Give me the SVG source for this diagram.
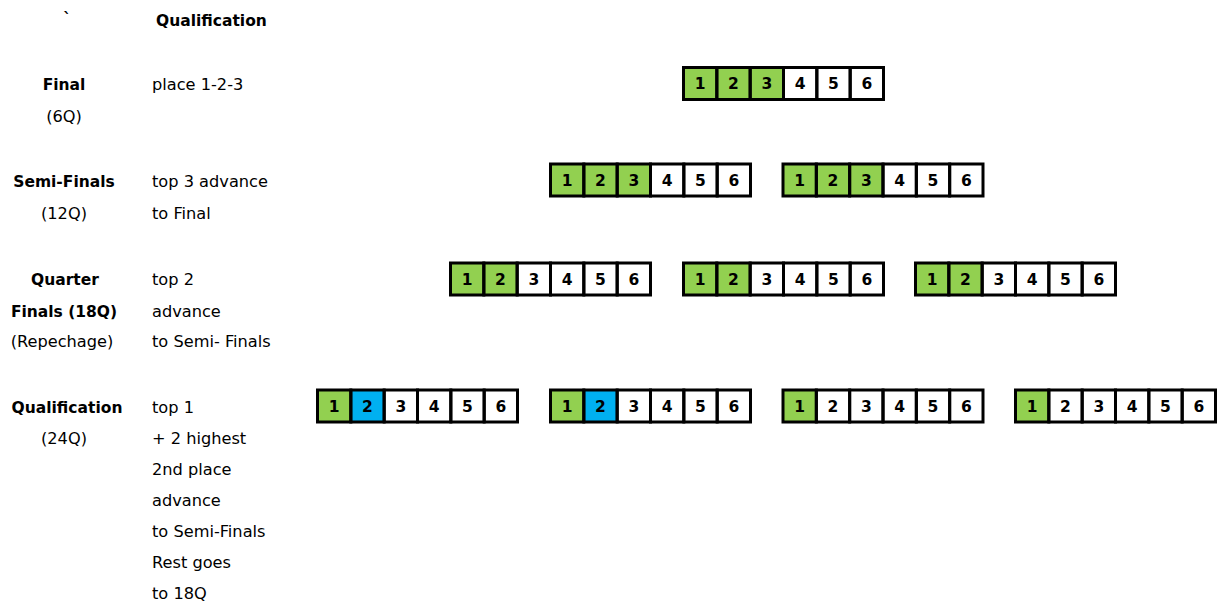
<svg xmlns="http://www.w3.org/2000/svg" xmlns:xlink="http://www.w3.org/1999/xlink" width="1221" height="605" viewBox="0 0 1221 605">
  <style>
    .lbl { font-family: "DejaVu Sans", "Liberation Sans", sans-serif; font-size: 16.2px; fill: #000; }
    .b { font-weight: bold; font-size: 15.5px; }
    .mid { text-anchor: middle; }
    .cell { fill: none; stroke: #000; stroke-width: 3; }
    .num { font-family: "DejaVu Sans", "Liberation Sans", sans-serif; font-size: 15.5px; font-weight: bold; text-anchor: middle; fill: #000; }
    .g { fill: #92D050; }
    .bl { fill: #00B0F0; }
  </style>
  <defs>
    <g id="strip">
      <rect class="cell" x="1.5" y="1.5" width="33.33" height="32"/>
      <rect class="cell" x="34.83" y="1.5" width="33.33" height="32"/>
      <rect class="cell" x="68.17" y="1.5" width="33.33" height="32"/>
      <rect class="cell" x="101.5" y="1.5" width="33.33" height="32"/>
      <rect class="cell" x="134.83" y="1.5" width="33.33" height="32"/>
      <rect class="cell" x="168.17" y="1.5" width="33.33" height="32"/>
      <text class="num" x="18.17" y="23">1</text>
      <text class="num" x="51.5" y="23">2</text>
      <text class="num" x="84.83" y="23">3</text>
      <text class="num" x="118.17" y="23">4</text>
      <text class="num" x="151.5" y="23">5</text>
      <text class="num" x="184.83" y="23">6</text>
    </g>
  </defs>
  <rect width="1221" height="605" fill="#fff"/>

  <g id="header">
    <text class="lbl b mid" x="67" y="24">`</text>
    <text class="lbl b" x="156" y="26">Qualification</text>
  </g>

  <g id="label-final">
    <text class="lbl b mid" x="64" y="90">Final</text>
    <text class="lbl mid" x="64" y="122">(6Q)</text>
    <text class="lbl" x="152" y="90">place 1-2-3</text>
  </g>
  <g id="label-semi">
    <text class="lbl b mid" x="64" y="187">Semi-Finals</text>
    <text class="lbl mid" x="64" y="219">(12Q)</text>
    <text class="lbl" x="152" y="187">top 3 advance</text>
    <text class="lbl" x="152" y="219">to Final</text>
  </g>
  <g id="label-quarter">
    <text class="lbl b mid" x="65" y="285">Quarter</text>
    <text class="lbl b mid" x="64" y="317">Finals (18Q)</text>
    <text class="lbl mid" x="62" y="347">(Repechage)</text>
    <text class="lbl" x="152" y="285">top 2</text>
    <text class="lbl" x="152" y="317">advance</text>
    <text class="lbl" x="152" y="347">to Semi- Finals</text>
  </g>
  <g id="label-qual">
    <text class="lbl b mid" x="67" y="413">Qualification</text>
    <text class="lbl mid" x="64" y="444">(24Q)</text>
    <text class="lbl" x="152" y="413">top 1</text>
    <text class="lbl" x="152" y="444">+ 2 highest</text>
    <text class="lbl" x="152" y="475">2nd place</text>
    <text class="lbl" x="152" y="506">advance</text>
    <text class="lbl" x="152" y="537">to Semi-Finals</text>
    <text class="lbl" x="152" y="568">Rest goes</text>
    <text class="lbl" x="152" y="599">to 18Q</text>
  </g>

  <g id="final-1" transform="translate(682,66)">
    <rect class="g" x="1.5" y="1.5" width="100" height="32"/>
    <use href="#strip" xlink:href="#strip"/>
  </g>

  <g id="semi-1" transform="translate(549,162.5)">
    <rect class="g" x="1.5" y="1.5" width="100" height="32"/>
    <use href="#strip" xlink:href="#strip"/>
  </g>
  <g id="semi-2" transform="translate(781.5,162.5)">
    <rect class="g" x="1.5" y="1.5" width="100" height="32"/>
    <use href="#strip" xlink:href="#strip"/>
  </g>

  <g id="quarter-1" transform="translate(449,261.5)">
    <rect class="g" x="1.5" y="1.5" width="66.67" height="32"/>
    <use href="#strip" xlink:href="#strip"/>
  </g>
  <g id="quarter-2" transform="translate(682,261.5)">
    <rect class="g" x="1.5" y="1.5" width="66.67" height="32"/>
    <use href="#strip" xlink:href="#strip"/>
  </g>
  <g id="quarter-3" transform="translate(914,261.5)">
    <rect class="g" x="1.5" y="1.5" width="66.67" height="32"/>
    <use href="#strip" xlink:href="#strip"/>
  </g>

  <g id="qual-1" transform="translate(316,388.5)">
    <rect class="g" x="1.5" y="1.5" width="33.33" height="32"/>
    <rect class="bl" x="34.83" y="1.5" width="33.33" height="32"/>
    <use href="#strip" xlink:href="#strip"/>
  </g>
  <g id="qual-2" transform="translate(549,388.5)">
    <rect class="g" x="1.5" y="1.5" width="33.33" height="32"/>
    <rect class="bl" x="34.83" y="1.5" width="33.33" height="32"/>
    <use href="#strip" xlink:href="#strip"/>
  </g>
  <g id="qual-3" transform="translate(781.5,388.5)">
    <rect class="g" x="1.5" y="1.5" width="33.33" height="32"/>
    <use href="#strip" xlink:href="#strip"/>
  </g>
  <g id="qual-4" transform="translate(1014,388.5)">
    <rect class="g" x="1.5" y="1.5" width="33.33" height="32"/>
    <use href="#strip" xlink:href="#strip"/>
  </g>
</svg>
